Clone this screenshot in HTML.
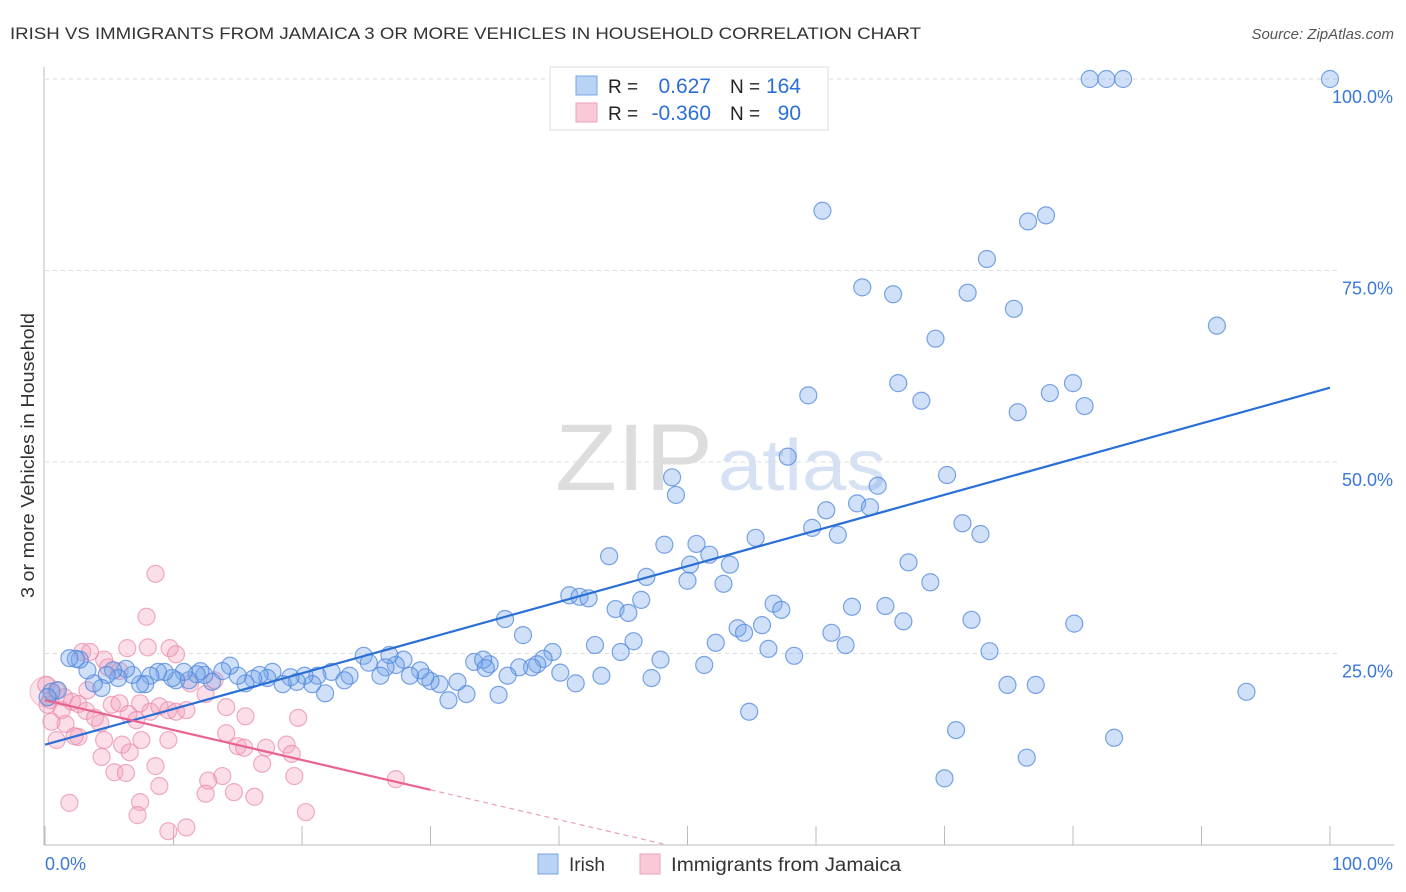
<!DOCTYPE html>
<html><head><meta charset="utf-8"><style>
body{margin:0;background:#fff;font-family:"Liberation Sans",sans-serif;}
#wrap{position:relative;width:1406px;height:892px;overflow:hidden;}
svg text{font-family:"Liberation Sans",sans-serif;}
</style></head><body>
<div id="wrap">
<svg id="svg" width="1406" height="892" xmlns="http://www.w3.org/2000/svg">
<text x="10" y="39" font-size="17" fill="#333" textLength="911" lengthAdjust="spacingAndGlyphs">IRISH VS IMMIGRANTS FROM JAMAICA 3 OR MORE VEHICLES IN HOUSEHOLD CORRELATION CHART</text>
<text x="1394" y="39" font-size="15" fill="#555" font-style="italic" text-anchor="end">Source: ZipAtlas.com</text>
<text x="34" y="598" font-size="18" fill="#333" textLength="285" lengthAdjust="spacingAndGlyphs" transform="rotate(-90 34 598)">3 or more Vehicles in Household</text>
<text x="555" y="490" font-size="95" fill="#ddd" font-family="Liberation Serif" textLength="158" lengthAdjust="spacingAndGlyphs">ZIP</text>
<text x="718" y="490" font-size="72" fill="#d6e2f3" textLength="168" lengthAdjust="spacingAndGlyphs">atlas</text>
<g id="grid"></g><g id="pts"></g><g id="lines"></g>
<g>
<rect x="550" y="67" width="278" height="63" fill="#fff" stroke="#ddd"/>
<rect x="576" y="76" width="21" height="19" fill="#b9d3f5" stroke="#7aa6e4"/>
<rect x="576" y="103" width="21" height="19" fill="#f9c9d8" stroke="#eea0ba"/>
<text x="608" y="93" font-size="19" fill="#222">R =</text><text x="711" y="93" font-size="21" fill="#2c6fd6" text-anchor="end">0.627</text>
<text x="730" y="93" font-size="19" fill="#222">N =</text><text x="801" y="93" font-size="21" fill="#2c6fd6" text-anchor="end">164</text>
<text x="608" y="120" font-size="19" fill="#222">R =</text><text x="711" y="120" font-size="21" fill="#2c6fd6" text-anchor="end">-0.360</text>
<text x="730" y="120" font-size="19" fill="#222">N =</text><text x="801" y="120" font-size="21" fill="#2c6fd6" text-anchor="end">90</text>
</g>
<g>
<rect x="538" y="854" width="20" height="20" fill="#b9d3f5" stroke="#7aa6e4"/>
<text x="569" y="871" font-size="19" fill="#333">Irish</text>
<rect x="640" y="854" width="20" height="20" fill="#f9c9d8" stroke="#eea0ba"/>
<text x="671" y="871" font-size="19" fill="#333" textLength="230" lengthAdjust="spacingAndGlyphs">Immigrants from Jamaica</text>
</g>
</svg>
</div>
<script>
const irishX=[81.3,82.6,83.9,100,60.5,76.5,77.9,73.3,63.6,66.0,71.8,75.4,69.3,91.2,59.4,66.4,68.2,75.7,78.2,80.0,80.9,48.8,49.1,57.8,70.2,64.8,63.2,60.8,64.2,59.7,61.7,71.4,72.8,55.3,48.2,50.7,51.7,43.9,50.2,53.3,46.8,50.0,52.8,67.2,68.9,40.8,41.6,42.3,44.4,45.4,46.4,56.7,57.3,62.8,65.4,66.8,72.1,80.1,35.8,37.2,45.8,42.8,44.8,47.9,51.3,52.2,53.9,54.4,55.8,56.3,58.3,61.2,62.3,73.5,74.9,77.1,93.5,54.8,70.9,83.2,70.0,76.4,39.5,38.8,38.3,37.9,36.9,36.0,34.6,33.4,34.1,34.3,35.3,32.8,31.4,32.1,41.3,43.3,47.2,40.1,30.7,30.0,29.6,29.2,28.4,27.9,27.3,26.8,26.5,26.1,24.8,25.2,23.7,23.3,22.3,21.8,21.2,20.8,20.2,19.6,19.1,18.5,17.7,17.3,16.7,16.2,15.6,15.0,14.4,13.8,13.0,12.4,12.1,11.8,11.2,10.8,10.2,9.9,9.3,8.8,8.2,7.8,7.4,6.8,6.3,5.7,5.3,4.8,4.4,3.8,3.3,2.7,2.4,1.9,0.5,1.0,0.2];
const irishY=[100,100,100,100,82.8,81.4,82.2,76.5,72.8,71.9,72.1,70.0,66.1,67.8,58.7,60.3,58.0,56.5,59.0,60.3,57.3,48.0,45.7,50.7,48.3,46.9,44.6,43.7,44.1,41.4,40.5,42.0,40.6,40.1,39.2,39.3,37.9,37.7,36.6,36.6,35.0,34.5,34.1,36.9,34.3,32.6,32.4,32.2,30.8,30.3,32.0,31.5,30.7,31.1,31.2,29.2,29.4,28.9,29.5,27.4,26.6,26.1,25.2,24.2,23.5,26.4,28.3,27.7,28.7,25.6,24.7,27.7,26.1,25.3,20.9,20.9,20.0,17.4,15.0,14.0,8.7,11.4,25.2,24.3,23.6,23.2,23.2,22.1,23.6,23.9,24.2,23.1,19.6,19.7,18.9,21.3,21.1,22.1,21.8,22.5,21.0,21.4,21.9,22.8,22.1,24.2,23.5,24.8,23.2,22.1,24.7,23.8,22.1,21.5,22.6,19.8,22.1,21.0,22.1,21.3,21.9,21.0,22.6,21.8,22.2,21.7,21.1,22.1,23.4,22.7,21.3,22.2,22.7,22.3,21.5,22.6,21.5,21.8,22.6,22.6,22.1,21.0,21.0,22.2,23.0,21.8,22.8,22.2,20.5,21.1,22.8,24.2,24.3,24.4,20.0,20.2,19.3];
const jamX=[8.6,7.9,8.0,9.7,6.4,2.9,4.6,4.9,0.9,1.5,0.4,0.2,1.3,2.1,2.6,3.2,3.9,4.3,3.3,5.2,5.8,6.5,7.1,7.4,8.2,8.9,9.6,10.2,11.0,11.3,12.5,13.2,14.1,15.6,19.7,0.9,2.6,4.6,6.0,6.6,7.5,9.6,4.4,5.4,6.3,8.6,8.9,14.1,15.0,15.5,16.9,17.2,18.8,19.2,19.4,12.7,13.8,14.7,16.3,12.5,1.9,7.4,7.2,9.6,11.0,20.3,27.3,0.1,3.5,5.8,10.2,1.6,0.5,2.3];
const jamY=[35.4,29.8,25.8,25.7,25.7,25.2,24.2,23.2,20.2,19.3,18.9,18.3,17.6,18.7,18.4,17.5,16.6,15.9,20.2,18.3,18.5,17.1,16.3,18.5,17.4,18.1,17.6,17.4,17.6,21.1,19.7,21.5,18.0,16.8,16.6,13.7,14.1,13.7,13.1,12.1,13.7,13.7,11.5,9.5,9.4,10.3,7.7,14.6,12.9,12.7,10.6,12.7,13.1,11.9,9.0,8.4,9.0,6.9,6.3,6.7,5.5,5.6,3.9,1.8,2.3,4.3,8.6,20.9,25.2,22.7,24.9,15.8,16.1,14.2];
const yTicks=[25,50,75,100];
const yTickLabels=["25.0%","50.0%","75.0%","100.0%"];
const xTicks=[0,10,20,30,40,50,60,70,80,90,100];
const irishTrend=[13.1,59.7];
const jamTrend=[18.9,7.2];
const jamSolidEnd=30;

const X0=45,X1=1330,Y0=845,Y1=79;
function sx(v){return X0+(X1-X0)*v/100;}
function sy(v){return Y0-(Y0-Y1)*v/100;}
const NS="http://www.w3.org/2000/svg";
function mk(tag,attrs,parent){const e=document.createElementNS(NS,tag);for(const k in attrs)e.setAttribute(k,attrs[k]);parent.appendChild(e);return e;}
const grid=document.getElementById('grid'),pts=document.getElementById('pts'),lines=document.getElementById('lines');
yTicks.forEach((t,i)=>{
  const l=mk('line',{x1:X0,x2:X1+10,y1:sy(t),y2:sy(t),stroke:'#ddd','stroke-dasharray':'4,4'},grid);
  
  
  const tx=mk('text',{x:1393,y:sy(t)+24,'font-size':18,fill:'#3b78d8','text-anchor':'end'},grid);
  tx.textContent=yTickLabels[i];
  
  
});
const ax=mk('line',{x1:X0-1,x2:X0-1,y1:67,y2:Y0,stroke:'#bbb'},grid);


const bx=mk('line',{x1:X0-1,x2:1394,y1:Y0,y2:Y0,stroke:'#bbb'},grid);


xTicks.forEach(t=>{
  const l=mk('line',{x1:sx(t),x2:sx(t),y1:Y0-19,y2:Y0,stroke:'#bbb'},grid);
  
  
});
const xl0=mk('text',{x:45,y:870,'font-size':18,fill:'#3b78d8'},grid);xl0.textContent='0.0%';


const xl1=mk('text',{x:1393,y:870,'font-size':18,fill:'#3b78d8','text-anchor':'end'},grid);xl1.textContent='100.0%';



const big=mk('circle',{cx:sx(0),cy:sy(20),r:15,fill:'rgba(240,150,180,0.25)',stroke:'rgba(232,140,170,0.5)'},pts);


jamX.forEach((x,i)=>{
  const c=mk('circle',{cx:sx(x),cy:sy(jamY[i]),r:8.5,fill:'rgba(243,160,188,0.35)',stroke:'rgba(232,130,165,0.65)','stroke-width':1.2},pts);
  
  
});
irishX.forEach((x,i)=>{
  const c=mk('circle',{cx:sx(x),cy:sy(irishY[i]),r:8.5,fill:'rgba(120,165,235,0.35)',stroke:'rgba(80,135,220,0.75)','stroke-width':1.2},pts);
  
  
});
const bl=mk('line',{x1:sx(0),y1:sy(irishTrend[0]),x2:sx(100),y2:sy(irishTrend[1]),stroke:'#2a6fd6','stroke-width':2.2},lines);


function jy(x){return jamTrend[0]+(jamTrend[1]-jamTrend[0])*x/jamSolidEnd;}
const pl=mk('line',{x1:sx(0),y1:sy(jamTrend[0]),x2:sx(jamSolidEnd),y2:sy(jy(jamSolidEnd)),stroke:'#e8638e','stroke-width':2.2},lines);


const xEnd=-jamTrend[0]*jamSolidEnd/(jamTrend[1]-jamTrend[0]);
const pd=mk('line',{x1:sx(jamSolidEnd),y1:sy(jy(jamSolidEnd)),x2:sx(xEnd),y2:sy(0),stroke:'#e8a0b8','stroke-width':1.2,'stroke-dasharray':'5,4'},lines);


</script>
</body></html>
